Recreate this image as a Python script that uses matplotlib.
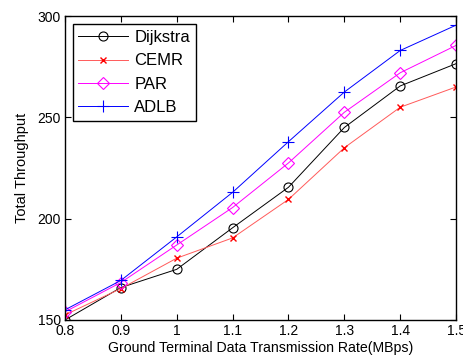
import matplotlib
matplotlib.use("Agg")
import matplotlib.pyplot as plt

plt.rcParams['font.family'] = ['Liberation Sans', 'DejaVu Sans']

rates = [0.8, 0.9, 1.0, 1.1, 1.2, 1.3, 1.4, 1.5]
dijkstra = [150, 166, 175, 195.5, 215.5, 245, 265.5, 276.5]
cemr = [152.5, 165.5, 180.5, 190.5, 209.5, 235, 255, 265]
par = [154, 168.5, 187, 205.5, 227.5, 252.5, 272, 285.5]
adlb = [155, 169.5, 191, 213, 238, 262.5, 283, 295.5]

xticks = [0.8, 0.9, 1.0, 1.1, 1.2, 1.3, 1.4, 1.5]
xticklabels = ['0.8', '0.9', '1', '1.1', '1.2', '1.3', '1.4', '1.5']
yticks = [150, 200, 250, 300]

fig = plt.figure(figsize=(4.64, 3.61), dpi=100)
ax = fig.add_axes([0.140, 0.1136, 0.843, 0.842])

lw = 0.7
ax.plot(rates, dijkstra, color='black', lw=lw, marker='o', ms=6.5, mfc='none', mec='black', mew=0.8, label='Dijkstra')
ax.plot(rates, cemr, color='#ff5a5a', lw=lw, marker='x', ms=4.5, mec='red', mew=1.0, label='CEMR')
ax.plot(rates, par, color='magenta', lw=lw, marker='D', ms=6, mfc='none', mec='magenta', mew=0.8, label='PAR')
ax.plot(rates, adlb, color='blue', lw=lw, marker='+', ms=9, mec='blue', mew=0.8, label='ADLB')

ax.set_xlim(0.8, 1.5)
ax.set_ylim(150, 300)
ax.set_xticks(xticks)
ax.set_xticklabels(xticklabels)
ax.set_yticks(yticks)
ax.tick_params(direction='in', top=True, right=True, length=4, width=0.8, labelsize=10, colors='black', pad=3)
for s in ax.spines.values():
    s.set_linewidth(1.0)

ax.set_xlabel('Ground Terminal Data Transmission Rate(MBps)', fontsize=10.2, labelpad=2)
ax.set_ylabel('Total Throughput', fontsize=10.5, labelpad=6)

leg = ax.legend(loc='upper left', bbox_to_anchor=(0.0197, 0.9727), borderaxespad=0, fontsize=12,
                frameon=True, fancybox=False, edgecolor='black', handlelength=2.95, borderpad=0.35,
                labelspacing=0.5, handletextpad=0.4)
leg.get_frame().set_linewidth(1.0)
leg.get_frame().set_alpha(1)

fig.savefig('out.png', dpi=100)
